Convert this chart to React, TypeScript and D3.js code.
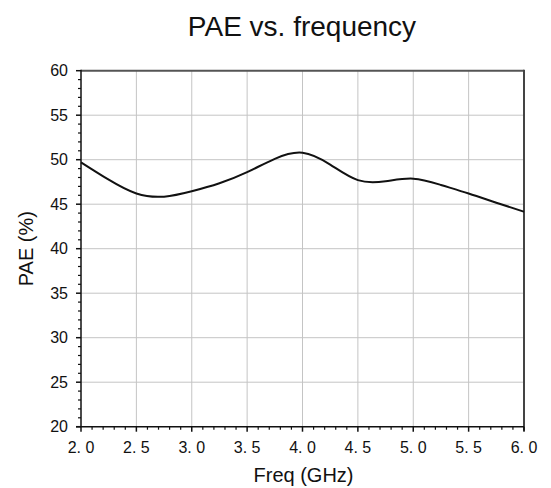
import React from "react";
import * as d3 from "d3";

const freqGHz = [2.0, 2.25, 2.5, 2.75, 3.0, 3.25, 3.5, 3.75, 4.0, 4.25, 4.5, 4.75, 5.0, 5.25, 5.5, 5.75, 6.0];
const paePct = [49.7, 47.75, 46.2, 45.85, 46.45, 47.35, 48.6, 50.1, 50.78, 49.45, 47.7, 47.58, 47.87, 47.16, 46.2, 45.17, 44.16];
const xTicks = [2.0, 2.5, 3.0, 3.5, 4.0, 4.5, 5.0, 5.5, 6.0];
const xTickLabels = ["2. 0", "2. 5", "3. 0", "3. 5", "4. 0", "4. 5", "5. 0", "5. 5", "6. 0"];
const yTicks = [20, 25, 30, 35, 40, 45, 50, 55, 60];

const W = 551;
const H = 488;
const left = 81;
const right = 524;
const top = 70.7;
const bottom = 426.7;

export default function App() {
  const x = d3.scaleLinear().domain([2, 6]).range([left, right]);
  const y = d3.scaleLinear().domain([20, 60]).range([bottom, top]);
  const line = d3
    .line<number>()
    .x((_, i) => x(freqGHz[i]))
    .y((d) => y(d))
    .curve(d3.curveNatural);
  const xMinor = d3.range(20, 61).map((v) => v / 10).filter((v) => Math.round(v * 10) % 5 !== 0);
  const yMinor = d3.range(20, 61).filter((v) => v % 5 !== 0);
  const font = "'Liberation Sans', Arial, sans-serif";

  return (
    <svg
      width={W}
      height={H}
      style={{ position: "absolute", left: 0, top: 0, background: "#fff" }}
      fontFamily={font}
    >
      <rect x={0} y={0} width={W} height={H} fill="#fff" />
      <text x={302} y={36} textAnchor="middle" fontSize={28} fill="#111">
        PAE vs. frequency
      </text>
      {/* grid */}
      {xTicks.slice(1, -1).map((t) => (
        <line key={"gx" + t} x1={x(t)} x2={x(t)} y1={top} y2={bottom} stroke="#c4c4c4" strokeWidth={1} />
      ))}
      {yTicks.slice(1, -1).map((t) => (
        <line key={"gy" + t} x1={left} x2={right} y1={y(t)} y2={y(t)} stroke="#c4c4c4" strokeWidth={1} />
      ))}
      {/* frame top & right */}
      <line x1={left} x2={right} y1={top} y2={top} stroke="#555" strokeWidth={2} />
      <line x1={right} x2={right} y1={top - 1} y2={bottom + 4} stroke="#444" strokeWidth={2} />
      {/* curve */}
      <path d={line(paePct) || ""} fill="none" stroke="#111" strokeWidth={2} />
      {/* axes */}
      <line x1={left} x2={left} y1={top - 1} y2={bottom} stroke="#111" strokeWidth={1.5} />
      <line x1={left - 5} x2={right} y1={bottom} y2={bottom} stroke="#111" strokeWidth={1.5} />
      {yTicks.map((t) => (
        <g key={"yt" + t}>
          <line x1={left - 5} x2={left} y1={y(t)} y2={y(t)} stroke="#111" strokeWidth={1.5} />
          <text x={left - 13} y={y(t)} dy="0.35em" textAnchor="end" fontSize={16} fill="#111">
            {t}
          </text>
        </g>
      ))}
      {yMinor.map((t) => (
        <line key={"ym" + t} x1={left - 3} x2={left} y1={y(t)} y2={y(t)} stroke="#111" strokeWidth={1.2} />
      ))}
      {xTicks.map((t, i) => (
        <g key={"xt" + t}>
          <line x1={x(t)} x2={x(t)} y1={bottom} y2={bottom + 5} stroke="#111" strokeWidth={1.5} />
          <text x={x(t)} y={453} textAnchor="middle" fontSize={16} fill="#111">
            {xTickLabels[i]}
          </text>
        </g>
      ))}
      {xMinor.map((t) => (
        <line key={"xm" + t} x1={x(t)} x2={x(t)} y1={bottom} y2={bottom + 3} stroke="#111" strokeWidth={1.2} />
      ))}
      <text x={303.5} y={482} textAnchor="middle" fontSize={20} fill="#111">
        Freq (GHz)
      </text>
      <text
        transform={`translate(33, ${(top + bottom) / 2}) rotate(-90)`}
        textAnchor="middle"
        fontSize={20}
        fill="#111"
      >
        PAE (%)
      </text>
    </svg>
  );
}
